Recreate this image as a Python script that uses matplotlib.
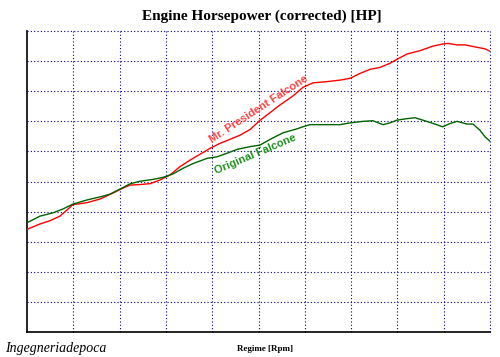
import matplotlib
matplotlib.use("Agg")
import matplotlib.pyplot as plt
import numpy as np

# values in grid units (10 divisions each way, no tick labels on the original)
red_x = [0.00, 0.28, 0.50, 0.71, 0.86, 0.99, 1.30, 1.58, 1.86, 2.07, 2.22, 2.44, 2.66,
         2.87, 3.09, 3.30, 3.52, 3.74, 3.95, 4.17, 4.38, 4.60, 4.82, 5.03, 5.25, 5.46,
         5.75, 5.96, 6.18, 6.48, 6.76, 6.98, 7.19, 7.41, 7.62, 7.84, 7.99, 8.21, 8.49,
         8.77, 8.98, 9.09, 9.29, 9.46, 9.72, 9.89, 10.00]
red_y = [3.41, 3.59, 3.70, 3.85, 4.05, 4.23, 4.30, 4.42, 4.62, 4.78, 4.88, 4.90, 4.93,
         5.05, 5.22, 5.49, 5.71, 5.91, 6.10, 6.27, 6.40, 6.54, 6.73, 7.03, 7.29, 7.54,
         7.85, 8.13, 8.28, 8.32, 8.37, 8.43, 8.59, 8.73, 8.79, 8.93, 9.06, 9.24, 9.35,
         9.50, 9.57, 9.59, 9.54, 9.54, 9.46, 9.41, 9.33]

green_x = [0.00, 0.28, 0.56, 0.78, 0.99, 1.30, 1.58, 1.79, 2.01, 2.22, 2.44, 2.72, 2.94,
           3.15, 3.37, 3.59, 3.89, 4.10, 4.32, 4.54, 4.82, 5.03, 5.25, 5.53, 5.83, 5.96,
           6.11, 6.48, 6.76, 6.98, 7.26, 7.47, 7.69, 7.84, 7.99, 8.21, 8.38, 8.55, 8.77,
           8.98, 9.14, 9.29, 9.50, 9.63, 9.78, 9.89, 10.00]
green_y = [3.63, 3.85, 3.96, 4.09, 4.25, 4.39, 4.49, 4.58, 4.75, 4.92, 5.01, 5.07, 5.14,
           5.25, 5.44, 5.60, 5.77, 5.82, 5.94, 6.07, 6.16, 6.21, 6.40, 6.62, 6.75, 6.82,
           6.89, 6.89, 6.89, 6.95, 7.00, 7.02, 6.89, 6.95, 7.04, 7.09, 7.12, 7.04, 6.93,
           6.82, 6.93, 7.00, 6.91, 6.91, 6.71, 6.49, 6.34]

fig = plt.figure(figsize=(5, 3.57), dpi=100)
ax = fig.add_axes([0.054, 0.070, 0.926, 0.843])

ax.plot(red_x, red_y, color='#ff0000', lw=1.0, zorder=3)
ax.plot(green_x, green_y, color='#006400', lw=1.0, zorder=3)

ax.set_xlim(0, 10)
ax.set_ylim(0, 10)
ax.set_xticks(np.arange(1, 11))
ax.set_yticks(np.arange(1, 11))
ax.tick_params(length=0, labelbottom=False, labelleft=False)
ax.grid(True, color='#000080', linestyle=(0, (1, 2)), linewidth=0.8)
# keep the edge gridlines (top/right) fully visible
for gl in ax.get_xgridlines() + ax.get_ygridlines():
    gl.set_clip_on(False)
ax.spines['top'].set_visible(False)
ax.spines['right'].set_visible(False)
ax.spines['left'].set_linewidth(1.2)
ax.spines['bottom'].set_linewidth(1.2)

# curve labels
ax.text(5.0, 7.4, 'Mr. President Falcone', color='#ff4040', fontsize=8, fontweight='bold',
        family='Liberation Sans', rotation=33, ha='center', va='center')
ax.text(4.93, 5.92, 'Original Falcone', color='#1f8f1f', fontsize=8, fontweight='bold',
        family='Liberation Sans', rotation=23, ha='center', va='center')

fig.text(0.524, 0.955, 'Engine Horsepower (corrected) [HP]', family='Liberation Serif',
         fontweight='bold', fontsize=11, ha='center', va='center')
fig.text(0.53, 0.022, 'Regime [Rpm]', family='Liberation Serif', fontweight='bold',
         fontsize=6.5, ha='center', va='center')
fig.text(0.01, 0.025, 'Ingegneriadepoca', family='Liberation Serif', style='italic',
         fontsize=10, ha='left', va='center')

fig.savefig('out.png', dpi=100)
